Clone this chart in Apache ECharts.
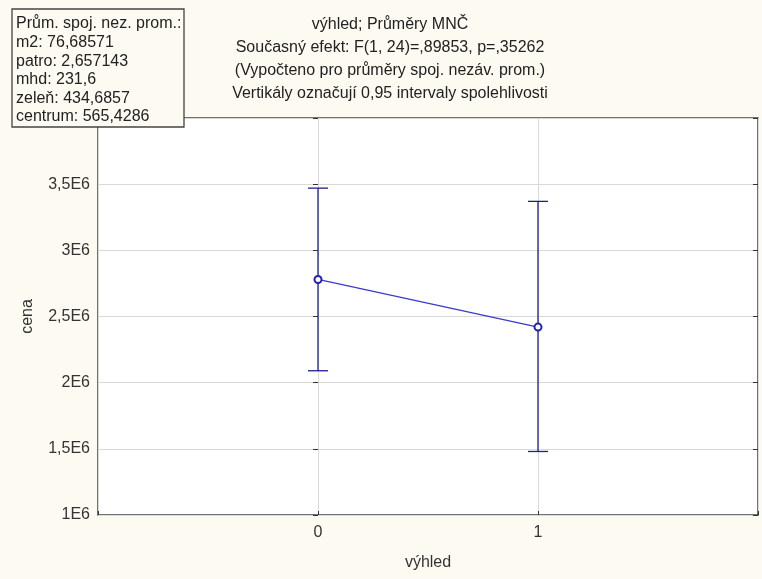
<!DOCTYPE html>
<html>
<head>
<meta charset="utf-8">
<script src="https://cdn.jsdelivr.net/npm/echarts@6/dist/echarts.min.js"></script>
<style>
  html, body { margin: 0; padding: 0; background: #fdfaf1; }
  #main { width: 762px; height: 579px; }
</style>
</head>
<body>
<div id="main"></div>
<script>
// data
var vyhled = [0, 1];
var prumery = [2780000, 2420000];
var dolni = [2090000, 1480000];
var horni = [3470000, 3370000];

var titleLines = [
  'výhled; Průměry MNČ',
  'Současný efekt: F(1, 24)=,89853, p=,35262',
  '(Vypočteno pro průměry spoj. nezáv. prom.)',
  'Vertikály označují 0,95 intervaly spolehlivosti'
];
var boxLines = [
  'Prům. spoj. nez. prom.:',
  'm2: 76,68571',
  'patro: 2,657143',
  'mhd: 231,6',
  'zeleň: 434,6857',
  'centrum: 565,4286'
];

var font = 'Arial, "Liberation Sans", sans-serif';
var myChart = echarts.init(document.getElementById('main'));

var meanData = [];
var errData = [];
for (var i = 0; i < vyhled.length; i++) {
  meanData.push([vyhled[i], prumery[i]]);
  errData.push([vyhled[i], dolni[i], horni[i]]);
}

//chybove useky
var renderErr = function(params, api) {
  var x = api.value(0);
  var lo = api.coord([x, api.value(1)]);
  var hi = api.coord([x, api.value(2)]);
  var w = 10;
  var st = { stroke: '#1e1e8c', lineWidth: 1.3 };
  return {
    type: 'group',
    children: [
      { type: 'line', shape: { x1: lo[0], y1: lo[1], x2: hi[0], y2: hi[1] }, style: st },
      { type: 'line', shape: { x1: hi[0] - w, y1: hi[1], x2: hi[0] + w, y2: hi[1] }, style: st },
      { type: 'line', shape: { x1: lo[0] - w, y1: lo[1], x2: lo[0] + w, y2: lo[1] }, style: st }
    ]
  };
};

var yLabel = function(v) {
  if (v >= 4000000) return '';
  return (v / 1000000).toString().replace('.', ',') + 'E6';
};

var options = {
  backgroundColor: '#fdfaf1',
  animation: false,
  grid: {
    left: 98, right: 4, top: 118, bottom: 64,
    show: true, backgroundColor: '#ffffff',
    borderColor: '#444444', borderWidth: 1.5
  },
  xAxis: {
    type: 'value', min: -1, max: 2, interval: 1,
    name: 'výhled', nameLocation: 'middle', nameGap: 40,
    nameTextStyle: { color: '#333', fontSize: 16, fontFamily: font },
    axisLine: { show: false },
    axisTick: { show: true, inside: true, length: 4, lineStyle: { color: '#333' } },
    axisLabel: {
      color: '#333', fontSize: 16, fontFamily: font, margin: 10,
      formatter: function(v) { return (v === 0 || v === 1) ? String(v) : ''; }
    },
    splitLine: { lineStyle: { color: '#d9d9d9' } }
  },
  yAxis: [{
    type: 'value', min: 1000000, max: 4000000, interval: 500000,
    name: 'cena', nameLocation: 'middle', nameGap: 62,
    nameTextStyle: { color: '#333', fontSize: 16, fontFamily: font },
    axisLine: { show: false },
    axisTick: { show: true, length: 5, lineStyle: { color: '#333' } },
    axisLabel: { color: '#333', fontSize: 16, fontFamily: font, margin: 8, formatter: yLabel },
    splitLine: { lineStyle: { color: '#d9d9d9' } }
  }, {
    type: 'value', min: 1000000, max: 4000000, interval: 500000, position: 'right',
    axisLine: { show: false },
    axisTick: { show: true, inside: true, length: 5, lineStyle: { color: '#333' } },
    axisLabel: { show: false },
    splitLine: { show: false }
  }],
  series: [{
    type: 'custom',
    renderItem: renderErr,
    data: errData,
    z: 2
  }, {
    type: 'line',
    data: meanData,
    symbol: 'emptyCircle',
    symbolSize: 7,
    lineStyle: { color: '#3a3acc', width: 1.2 },
    itemStyle: { color: '#2222b0', borderWidth: 1.5 },
    z: 3
  }],
  graphic: []
};

var g = [];
for (var t = 0; t < titleLines.length; t++) {
  g.push({
    type: 'text', x: 390, y: 25 + t * 23,
    style: { text: titleLines[t], align: 'center', verticalAlign: 'middle', fill: '#222', font: '16px ' + font }
  });
}
g.push({
  type: 'rect', x: 12, y: 9, z: 100,
  shape: { width: 172, height: 118 },
  style: { fill: '#fdfaf1', stroke: '#444', lineWidth: 1.3 }
});
for (var b = 0; b < boxLines.length; b++) {
  g.push({
    type: 'text', x: 16, y: 24 + b * 18.6, z: 101,
    style: { text: boxLines[b], verticalAlign: 'middle', fill: '#222', font: '16px ' + font }
  });
}
options.graphic = g;

myChart.setOption(options, true);
</script>
</body>
</html>
